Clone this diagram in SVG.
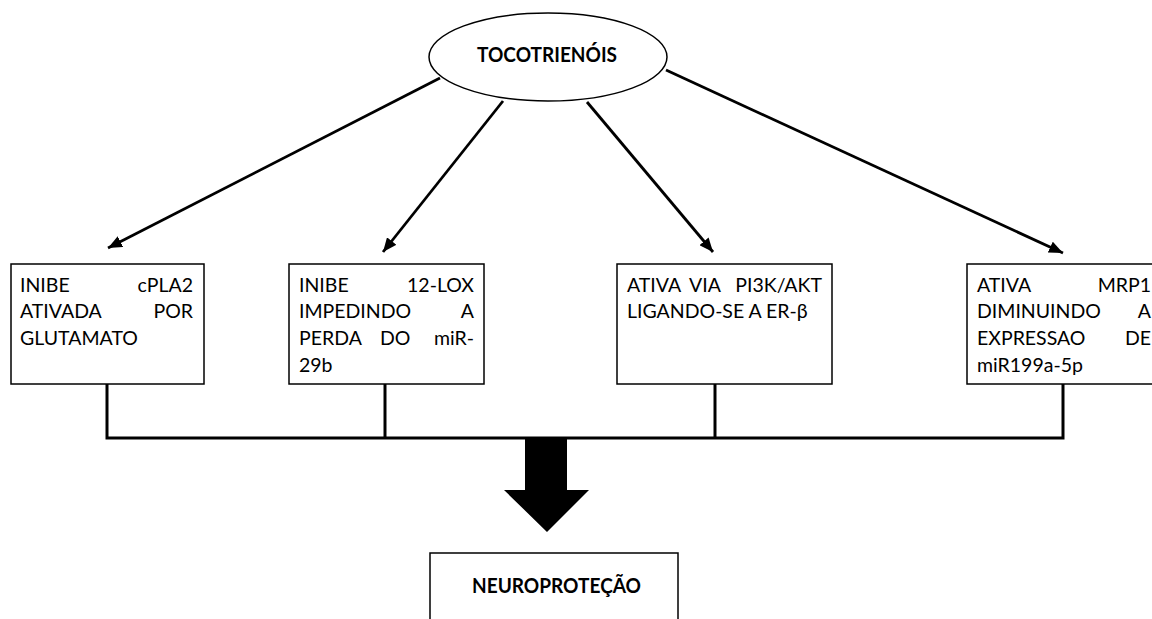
<svg xmlns="http://www.w3.org/2000/svg" width="1152" height="619" viewBox="0 0 1152 619">
<style>
.box{fill:#fff;stroke:#000;stroke-width:1.5}
.t{font-family:Lato,"Open Sans","Liberation Sans",sans-serif;font-size:19.5px;fill:#000}
.b{font-family:Lato,"Open Sans","Liberation Sans",sans-serif;font-size:21.5px;font-weight:bold;fill:#000}
.e{text-anchor:end}
.c{fill:none;stroke:#000;stroke-width:2.8}
.w{fill:none;stroke:#000;stroke-width:3}
</style>
<defs>
<marker id="ah" markerUnits="userSpaceOnUse" markerWidth="15" markerHeight="12" refX="14" refY="6" orient="auto">
<path d="M0,0 L14,6 L0,12 Z" fill="#000"/>
</marker>
</defs>
<rect width="1152" height="619" fill="#fff"/>
<g id="connectors">
<line class="c" x1="440" y1="78" x2="108" y2="248" marker-end="url(#ah)"/>
<line class="c" x1="503" y1="101" x2="383" y2="252" marker-end="url(#ah)"/>
<line class="c" x1="587" y1="102" x2="713" y2="252" marker-end="url(#ah)"/>
<line class="c" x1="666" y1="70" x2="1063" y2="253" marker-end="url(#ah)"/>
<polyline class="w" points="107,384 107,438 1063,438 1063,384"/>
<line class="w" x1="385" y1="384" x2="385" y2="438"/>
<line class="w" x1="715" y1="384" x2="715" y2="438"/>
<polygon points="525,439 567,439 567,490 589,490 547,532 504,490 525,490" fill="#000"/>
</g>
<g id="tocotrienois">
<ellipse cx="548" cy="57" rx="119" ry="44" fill="#fff" stroke="#000" stroke-width="1.5"/>
<text class="b" x="477" y="62" textLength="140" lengthAdjust="spacingAndGlyphs">TOCOTRIENÓIS</text>
</g>
<g id="box1">
<rect class="box" x="11" y="264" width="193" height="120"/>
<text class="t" x="20" y="292">INIBE</text><text class="t e" x="193" y="292">cPLA2</text>
<text class="t" x="20" y="318">ATIVADA</text><text class="t e" x="193" y="318">POR</text>
<text class="t" x="20" y="345">GLUTAMATO</text>
</g>
<g id="box2">
<rect class="box" x="289" y="264" width="195" height="120"/>
<text class="t" x="299" y="292">INIBE</text><text class="t e" x="474" y="292">12-LOX</text>
<text class="t" x="299" y="318">IMPEDINDO</text><text class="t e" x="474" y="318">A</text>
<text class="t" x="299" y="345">PERDA</text><text class="t" x="380" y="345">DO</text><text class="t e" x="474" y="345">miR-</text>
<text class="t" x="299" y="372">29b</text>
</g>
<g id="box3">
<rect class="box" x="617" y="264" width="215" height="120"/>
<text class="t" x="627" y="292">ATIVA</text><text class="t" x="689" y="292">VIA</text><text class="t e" x="822" y="292">PI3K/AKT</text>
<text class="t" x="627" y="318">LIGANDO-SE A ER-β</text>
</g>
<g id="box4">
<rect class="box" x="967" y="264" width="200" height="120"/>
<text class="t" x="977" y="292">ATIVA</text><text class="t e" x="1151" y="292">MRP1</text>
<text class="t" x="977" y="318">DIMINUINDO</text><text class="t e" x="1151" y="318">A</text>
<text class="t" x="977" y="345">EXPRESSAO</text><text class="t e" x="1151" y="345">DE</text>
<text class="t" x="977" y="372">miR199a-5p</text>
</g>
<g id="neuroprotecao">
<rect class="box" x="430" y="553" width="248" height="80"/>
<text class="b" x="472" y="593" textLength="169" lengthAdjust="spacingAndGlyphs">NEUROPROTEÇÃO</text>
</g>
</svg>
